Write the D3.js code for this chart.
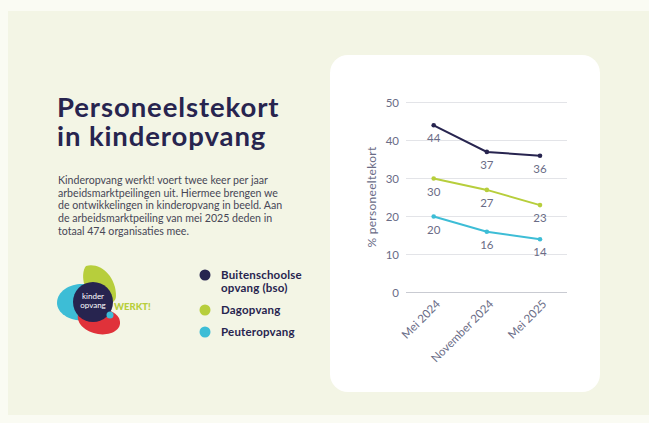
<!DOCTYPE html>
<html><head><meta charset="utf-8">
<script src="https://cdn.jsdelivr.net/npm/d3@7"></script>
<style>
html,body{margin:0;padding:0;background:#fafbf3;}
svg{display:block;}
</style></head>
<body>
<svg id="c" width="649" height="423"></svg>
<script>
const periods = ["Mei 2024", "November 2024", "Mei 2025"];
const bso = [44, 37, 36];
const dagopvang = [30, 27, 23];
const peuteropvang = [20, 16, 14];
const seriesNames = ["Buitenschoolse opvang (bso)", "Dagopvang", "Peuteropvang"];
const seriesColors = ["#27244f", "#b7ce3c", "#3dbdd6"];
const yTicks = [0, 10, 20, 30, 40, 50];
const titleLines = ["Personeelstekort", "in kinderopvang"];
const bodyLines = [
  "Kinderopvang werkt! voert twee keer per jaar",
  "arbeidsmarktpeilingen uit. Hiermee brengen we",
  "de ontwikkelingen in kinderopvang in beeld. Aan",
  "de arbeidsmarktpeiling van mei 2025 deden in",
  "totaal 474 organisaties mee."
];
const yTitle = "% personeeltekort";

const FONT = "Lato, 'Open Sans', sans-serif";
const svg = d3.select("#c");

// backgrounds
svg.append("rect").attr("x",0).attr("y",0).attr("width",649).attr("height",423).attr("fill","#fafbf3");
svg.append("rect").attr("x",8).attr("y",11).attr("width",641).attr("height",404).attr("fill","#f3f5e5");
svg.append("rect").attr("x",330).attr("y",55).attr("width",270).attr("height",337).attr("rx",18).attr("fill","#ffffff");

// title (one text block, two lines)
svg.append("text")
  .attr("font-family",FONT).attr("font-weight",700).attr("font-size",27.5)
  .attr("letter-spacing",0.9).attr("fill","#27244f")
  .selectAll("tspan").data(titleLines).join("tspan")
  .attr("x",57).attr("y",(d,i)=>117+i*28.5).text(d=>d);

// body
svg.append("g").selectAll("text").data(bodyLines).join("text")
  .attr("x",58).attr("y",(d,i)=>184+i*12.7)
  .attr("font-family",FONT).attr("font-size",10.6)
  .attr("fill","#474756").text(d=>d);

// logo
const logo = svg.append("g");
logo.append("path").attr("d","M86,266 C100,262 116,276 116,296 C116,306 100,306 92,300 C84,290 80,274 86,266 Z").attr("fill","#b7ce3c");
logo.append("path").attr("d","M57,303 C57,290 72,283 84,284 C92,286 92,318 84,320 C72,322 57,314 57,303 Z").attr("fill","#3dbdd6");
logo.append("path").attr("d","M78,314 C90,306 112,306 119,318 C124,330 110,336 98,334 C86,332 76,324 78,314 Z").attr("fill","#e0323a");
logo.append("circle").attr("cx",93).attr("cy",302).attr("r",20).attr("fill","#27244f");
logo.append("circle").attr("cx",110).attr("cy",315).attr("r",3.5).attr("fill","#3dbdd6");
logo.append("text").attr("x",93).attr("y",299).attr("text-anchor","middle").attr("font-family",FONT).attr("font-size",8).attr("fill","#ffffff").text("kinder");
logo.append("text").attr("x",93).attr("y",308).attr("text-anchor","middle").attr("font-family",FONT).attr("font-size",8).attr("fill","#ffffff").text("opvang");
logo.append("text").attr("x",114).attr("y",310).attr("font-family",FONT).attr("font-weight",900).attr("font-size",9.5).attr("fill","#b7ce3c").text("WERKT!");

// legend
const legendRows = [
  {lines:["Buitenschoolse","opvang (bso)"], y:275},
  {lines:["Dagopvang"], y:310},
  {lines:["Peuteropvang"], y:332}
];
const lg = svg.append("g");
legendRows.forEach((r,i)=>{
  lg.append("circle").attr("cx",205).attr("cy",r.y).attr("r",5.5).attr("fill",seriesColors[i]);
  r.lines.forEach((t,j)=>{
    lg.append("text").attr("x",221).attr("y",r.y+4+j*12.5)
      .attr("font-family",FONT).attr("font-weight",700).attr("font-size",11.5)
      .attr("letter-spacing",0.2)
      .attr("fill","#27244f").text(t);
  });
});

// chart
const x = d3.scalePoint().domain(periods).range([433.7, 540]);
const y = d3.scaleLinear().domain([0,50]).range([292.5, 102.5]);
const gridX0 = 406, gridX1 = 567;

const grid = svg.append("g");
grid.selectAll("line").data(yTicks).join("line")
  .attr("x1",gridX0).attr("x2",gridX1)
  .attr("y1",d=>y(d)).attr("y2",d=>y(d))
  .attr("stroke",d=>d===0?"#c9cbd2":"#e3e4e8").attr("stroke-width",1);

const yAxis = svg.append("g").attr("transform","translate(399,0)")
  .call(d3.axisLeft(y).tickValues(yTicks).tickSize(0).tickPadding(0));
yAxis.select(".domain").remove();
yAxis.selectAll("text").attr("font-family",FONT).attr("font-size",11.5).attr("fill","#6a6c86").attr("dy","0.35em");

const xAxis = svg.append("g").attr("transform","translate(0,300)")
  .call(d3.axisBottom(x).tickSize(0).tickPadding(0));
xAxis.select(".domain").remove();
xAxis.selectAll("text")
  .attr("font-family",FONT).attr("font-size",11.5).attr("fill","#6a6c86")
  .attr("text-anchor","end").attr("dy","0.35em").attr("y",0).attr("x",0)
  .attr("transform","translate(4,2) rotate(-45)");

svg.append("text").attr("transform","translate(376,197) rotate(-90)")
  .attr("text-anchor","middle").attr("font-family",FONT).attr("font-size",12)
  .attr("letter-spacing",0.3)
  .attr("fill","#6a6c86").text(yTitle);

const series = [bso, dagopvang, peuteropvang];
const line = d3.line().x((d,i)=>x(periods[i])).y(d=>y(d));
series.forEach((vals,si)=>{
  const g = svg.append("g");
  g.append("path").datum(vals).attr("d",line).attr("fill","none")
    .attr("stroke",seriesColors[si]).attr("stroke-width",2);
  g.selectAll("circle").data(vals).join("circle")
    .attr("cx",(d,i)=>x(periods[i])).attr("cy",d=>y(d)).attr("r",2.3).attr("fill",seriesColors[si]);
  g.selectAll("text").data(vals).join("text")
    .attr("x",(d,i)=>x(periods[i])).attr("y",d=>y(d)+17)
    .attr("text-anchor","middle").attr("font-family",FONT).attr("font-size",11.5)
    .attr("fill","#6a6c86").text(d=>d);
});
</script>
</body></html>
